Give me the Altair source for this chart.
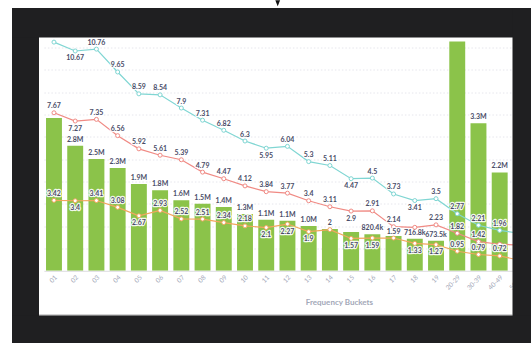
import altair as alt
import pandas as pd

# ---- data -------------------------------------------------------------
buckets = ["01", "02", "03", "04", "05", "06", "07", "08", "09", "10", "11",
           "12", "13", "14", "15", "16", "17", "18", "19", "20-29", "30-39",
           "40-49", "50-59"]

volume = [3.42e6, 2.8e6, 2.5e6, 2.3e6, 1.94e6, 1.8e6, 1.58e6, 1.5e6, 1.43e6,
          1.27e6, 1.14e6, 1.12e6, 1.0e6, 0.935e6, 0.87e6, 820.4e3, 0.78e6,
          716.8e3, 673.5e3, 5.6e6, 3.3e6, 2.2e6, 1.6e6]
volume_tag = [False, True, True, True, True, True, True, True, True, True, True,
              True, True, False, False, True, False, True, True, True, True,
              True, False]

series_names = ["upper", "middle", "lower"]
series_colors = ["#80d6d3", "#f08a84", "#f2a65e"]

upper = [11.1, 10.67, 10.76, 9.65, 8.59, 8.54, 7.9, 7.31, 6.82, 6.3, 5.95,
         6.04, 5.3, 5.11, 4.47, 4.5, 3.73, 3.41, 3.5, 2.77, 2.21, 1.96, 1.81]
middle = [7.67, 7.27, 7.35, 6.56, 5.92, 5.61, 5.39, 4.79, 4.47, 4.12, 3.84,
          3.77, 3.4, 3.11, 2.9, 2.91, 2.14, 2.11, 2.23, 1.82, 1.42, 1.29, 1.25]
lower = [3.42, 3.4, 3.41, 3.08, 2.67, 2.93, 2.52, 2.51, 2.34, 2.18, 2.1,
         2.27, 1.9, 2, 1.57, 1.59, 1.59, 1.33, 1.27, 0.95, 0.79, 0.72, 0.5]

# label placement per bucket: a = above the point, b = below, - = no label
upper_pos = ["-", "b", "a", "a", "a", "a", "a", "a", "a", "a", "b", "a",
             "a", "a", "b", "a", "a", "b", "a", "a", "a", "a", "-"]
middle_pos = ["a", "b", "a", "a", "a", "a", "a", "a", "a", "a", "a", "a",
              "a", "a", "b", "a", "a", "-", "a", "a", "a", "-", "-"]
lower_pos = ["a", "b", "a", "a", "b", "a", "a", "a", "a", "a", "b", "b",
             "b", "a", "b", "b", "a", "b", "b", "a", "a", "a", "-"]

# ---- layout -----------------------------------------------------------
PL, PT = 43.9, 41.5          # plot origin inside the 531 x 343 canvas
W, H = 487.1, 229.3
DARK = "#1f1f21"
TEXT = "#4a4d68"
FONT = "Lato"

bars_df = pd.DataFrame({"bucket": buckets, "volume": volume, "tag": volume_tag})

rows = []
for name, vals, pos in zip(series_names, [upper, middle, lower],
                           [upper_pos, middle_pos, lower_pos]):
    for b, v, p in zip(buckets, vals, pos):
        rows.append({"bucket": b, "series": name, "value": v, "pos": p,
                     "txt": f"{v:g}"})
lines_df = pd.DataFrame(rows)

x_enc = alt.X(
    "bucket:N", sort=buckets,
    scale=alt.Scale(paddingInner=0.25, paddingOuter=0.1),
    axis=alt.Axis(title="Frequency Buckets", labelAngle=-45, labelFontSize=6.5,
                  labelColor="#a3a8b8", labelFont=FONT, ticks=False,
                  domainColor="#dcdce0", labelPadding=3, grid=False,
                  titleFont=FONT, titleFontSize=8, titleColor="#a3a8b8",
                  titleFontWeight="bold", titleX=295, titleY=32,
                  titleBaseline="middle"),
)

bar_scale = alt.Scale(domain=[0, 5.13e6], nice=False, zero=True)
line_scale = alt.Scale(domain=[0, 11.13], nice=False, zero=True)
color_scale = alt.Scale(domain=series_names, range=series_colors)

bars = alt.Chart(bars_df).mark_bar(color="#8bc34a", clip=True).encode(
    x=x_enc,
    y=alt.Y("volume:Q", scale=bar_scale,
            axis=alt.Axis(grid=True, labels=False, ticks=False, domain=False,
                          title=None, gridColor="#e6e6ec", gridDash=[1.5, 2],
                          values=[i * 0.5e6 for i in range(1, 11)])),
)

bar_labels = alt.Chart(bars_df).transform_filter(
    alt.datum.tag
).transform_calculate(
    lab="datum.volume >= 1e6 ? format(datum.volume, '.2s') : format(datum.volume, '.4s')"
).mark_text(baseline="bottom", dy=-3, fontSize=7, fontWeight="bold",
            font=FONT, color=TEXT, clip=True).encode(
    x=alt.X("bucket:N", sort=buckets),
    y=alt.Y("volume:Q", scale=bar_scale, axis=None),
    text="lab:N",
)

line_y = alt.Y("value:Q", scale=line_scale, axis=None)

lines = alt.Chart(lines_df).mark_line(strokeWidth=1.2).encode(
    x=alt.X("bucket:N", sort=buckets),
    y=line_y,
    color=alt.Color("series:N", scale=color_scale, legend=None),
)

points = alt.Chart(lines_df).mark_point(filled=True, fill="white", size=16,
                                        strokeWidth=1, opacity=1).encode(
    x=alt.X("bucket:N", sort=buckets),
    y=line_y,
    stroke=alt.Stroke("series:N", scale=color_scale, legend=None),
)


def value_labels(pos, dy, halo):
    style = dict(baseline="middle", dy=dy, fontSize=7, fontWeight="bold",
                 font=FONT, color=TEXT)
    if halo:
        style.update(stroke="white", strokeWidth=2.4, strokeJoin="round",
                     strokeOpacity=0.9, color="white")
    return alt.Chart(lines_df).transform_filter(
        alt.datum.pos == pos
    ).mark_text(**style).encode(
        x=alt.X("bucket:N", sort=buckets),
        y=line_y,
        text="txt:N",
    )


one = pd.DataFrame({"k": [0]})


def frame(x0, y0, x1, y1, color):
    # rectangle given in canvas pixels
    return alt.Chart(one).mark_rect(color=color).encode(
        x=alt.value(x0 - PL), x2=alt.value(x1 - PL),
        y=alt.value(y0 - PT), y2=alt.value(y1 - PT),
    )


marker = alt.Chart(one).mark_point(
    shape="M-0.8,-1L0.8,-1L0,1Z", filled=True, color="#111111", size=36,
    opacity=1,
).encode(x=alt.value(277.7 - PL), y=alt.value(3.2 - PT))

chart = alt.layer(
    bars, bar_labels, lines, points,
    value_labels("a", -6.5, True), value_labels("b", 7.5, True),
    value_labels("a", -6.5, False), value_labels("b", 7.5, False),
    frame(39, 314.6, 512.5, 315.6, "#a8a8a8"),
    frame(12, 8, 39, 343, DARK),
    frame(12, 8, 531, 37.5, DARK),
    frame(512.5, 8, 531, 343, DARK),
    frame(12, 315.5, 531, 343, DARK),
    marker,
).resolve_scale(
    y="independent"
).properties(
    width=W, height=H,
    padding={"left": PL, "top": PT, "right": 531 - PL - W, "bottom": 343 - PT - H},
    autosize=alt.AutoSizeParams(type="none"),
    background="white",
).configure_view(stroke=None)

chart.save("out.html", embed_options={"renderer": "svg", "actions": False})
